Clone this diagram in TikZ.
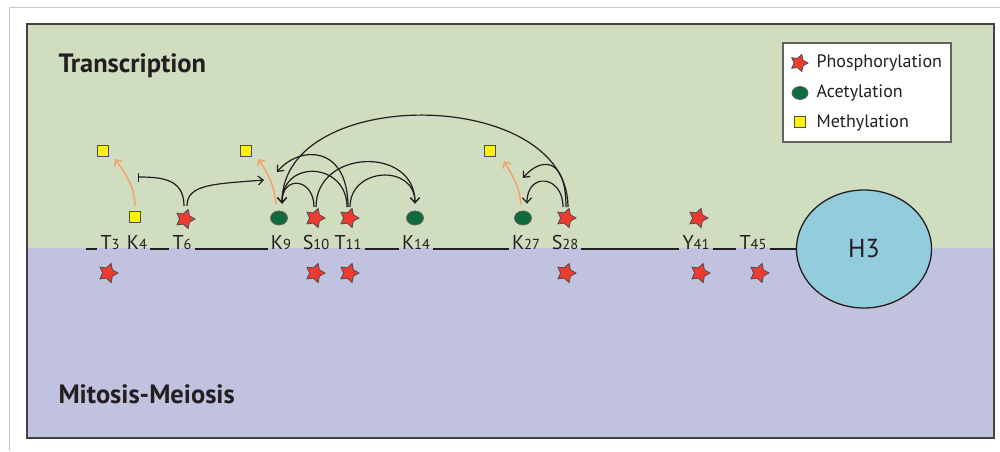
\documentclass[tikz,border=0pt]{standalone}
\usepackage{fontspec}
\setmainfont{PT Sans}
\usetikzlibrary{arrows.meta,positioning,shapes.geometric}
\definecolor{Ink}{HTML}{231F20}
\definecolor{Frame}{HTML}{C8CACC}
\definecolor{Sage}{HTML}{D0DDBE}
\definecolor{Lilac}{HTML}{C1C1E0}
\definecolor{Cyan}{HTML}{93CDDD}
\definecolor{StarRed}{HTML}{EE3B2F}
\definecolor{AcGreen}{HTML}{0E6B3C}
\definecolor{MeYellow}{HTML}{FFF200}
\definecolor{Peach}{HTML}{F4A06A}
\newcommand{\res}[2]{#1{\fontsize{14.5}{16}\selectfont #2}}

\begin{document}
\begin{tikzpicture}[x=1pt,y=1pt,
      site/.style={anchor=base,inner sep=3pt,font=\fontsize{20}{22}\selectfont,text=Ink},
      phos/.style={star,star points=5,star point ratio=1.85,minimum size=20pt,inner sep=0pt,
        fill=StarRed,draw=Ink!80,line width=0.8pt,rotate=-18},
      acet/.style={ellipse,minimum width=17pt,minimum height=14pt,inner sep=0pt,
        fill=AcGreen,draw=Ink!70,line width=0.8pt},
      meth/.style={rectangle,minimum size=11pt,inner sep=0pt,fill=MeYellow,draw=Ink!80,line width=1pt},
      histone/.style={ellipse,minimum width=135pt,minimum height=118pt,fill=Cyan,draw=Ink,
        line width=1.3pt,font=\fontsize{26}{30}\selectfont,text=Ink},
      region/.style={anchor=base west,font=\fontsize{26.5}{30}\selectfont\bfseries,text=Ink},
      legendbox/.style={rectangle,minimum width=168pt,minimum height=99pt,fill=white,draw=Ink!70,line width=1.2pt},
      key/.style={anchor=base west,font=\fontsize{18}{21}\selectfont,text=Ink},
      backbone/.style={line width=1.3pt,Ink},
      arrow/.style={-{Straight Barb[length=5pt,width=9pt]},line width=1.2pt,Ink},
      block/.style={-{Bar[width=9pt]},line width=1.2pt,Ink},
      methyl/.style={-{Straight Barb[length=5pt,width=9pt]},line width=1.4pt,Peach}
    ]
      \useasboundingbox (0,0) rectangle (1000,-451);
      \draw[Frame,line width=0.8pt] (9,-451) -- (9,-7) -- (1000,-7);
      \fill[Sage] (27,-24) rectangle (994,-248);
      \fill[Lilac] (27,-248) rectangle (994,-438);
      \draw[Ink!85,line width=1.5pt] (27,-24) rectangle (994,-438);
      \node[region] (tr) at (55,-72) {Transcription};
      \node[region] (mm) at (55,-403) {Mitosis-Meiosis};

      % legend
      \node[legendbox] (legend) at (867,-92.5) {};
      \node[phos,minimum size=18pt] (keyP) at (799,-63) {};
      \node[key] (keyPt) at (813,-67) {Phosphorylation};
      \node[acet,minimum width=16pt,minimum height=13pt] (keyA) at (800,-93) {};
      \node[key] (keyAt) at (813,-97) {Acetylation};
      \node[meth] (keyM) at (800,-122) {};
      \node[key] (keyMt) at (813,-127) {Methylation};

      % residues
      \node[site] (T3) at (110,-249) {\res{T}{3}};
      \node[site] (K4) at (137,-249) {\res{K}{4}};
      \node[site] (T6) at (182,-249) {\res{T}{6}};
      \node[site] (K9) at (281,-249) {\res{K}{9}};
      \node[site] (S10) at (316,-249) {\res{S}{10}};
      \node[site] (T11) at (348,-249) {\res{T}{11}};
      \node[site] (K14) at (416,-249) {\res{K}{14}};
      \node[site] (K27) at (526,-249) {\res{K}{27}};
      \node[site] (S28) at (565,-249) {\res{S}{28}};
      \node[site] (Y41) at (696,-249) {\res{Y}{41}};
      \node[site] (T45) at (753,-249) {\res{T}{45}};
      \node[histone] (H3) at (864,-249) {H3};
      \coordinate (nterm) at (86,-249);
      \draw[backbone] (nterm) -- (T3.base west);
      \draw[backbone] (K4.base east) -- (T6.base west);
      \draw[backbone] (T6.base east) -- (K9.base west);
      \draw[backbone] (T11.base east) -- (K14.base west);
      \draw[backbone] (K14.base east) -- (K27.base west);
      \draw[backbone] (S28.base east) -- (Y41.base west);
      \draw[backbone] (Y41.base east) -- (T45.base west);
      \draw[backbone] (T45.base east) -- (H3.west);

      % marks, transcription side
      \node[meth] (K4m) at (135,-217) {};
      \node[phos] (T6p) at (185,-219) {};
      \node[acet] (K9a) at (279,-218) {};
      \node[phos] (S10p) at (315,-218) {};
      \node[phos] (T11p) at (349,-218) {};
      \node[acet] (K14a) at (415,-218) {};
      \node[acet] (K27a) at (523,-218) {};
      \node[phos] (S28p) at (566,-218) {};
      \node[phos] (Y41p) at (698,-218) {};
      \node[meth] (K4me) at (103,-151) {};
      \node[meth] (K9me) at (246,-151) {};
      \node[meth] (K27me) at (490,-151) {};

      % marks, mitosis side
      \node[phos] (T3q) at (108,-273) {};
      \node[phos] (S10q) at (315,-273) {};
      \node[phos] (T11q) at (349,-273) {};
      \node[phos] (S28q) at (566,-273) {};
      \node[phos] (Y41q) at (700,-273) {};
      \node[phos] (T45q) at (759,-273) {};

      % crosstalk
      \coordinate (inhib) at (138,-177);
      \coordinate (k9in) at (264,-180);
      \coordinate (k9side) at (277,-172);
      \coordinate (k27side) at (523,-178);
      \coordinate (k9top) at ([shift={(3,7)}]K9a.north);
      \coordinate (k14top) at ([yshift=7pt]K14a.north);
      \coordinate (k27top) at ([shift={(4,7)}]K27a.north);
      \draw[methyl] ([yshift=5pt]K4m.north) to[out=92,in=-55] ([shift={(6,-2)}]K4me.south east);
      \draw[methyl] ([shift={(-3,6)}]K9a.north) to[out=95,in=-55] ([shift={(6,-2)}]K9me.south east);
      \draw[methyl] ([shift={(-2,6)}]K27a.north) to[out=95,in=-60] ([shift={(8,-4)}]K27me.south east);
      \draw[block] ([shift={(-1,13)}]T6p.center) .. controls +(0,26) and +(26,0) .. (inhib);
      \draw[arrow] ([shift={(2,13)}]T6p.center) .. controls +(0,22) and +(-50,-4) .. (k9in);
      \draw[arrow] ([shift={(-1,11)}]S10p.center) .. controls +(0,29) and +(0,29) .. (k9top);
      \draw[arrow] ([shift={(1,11)}]S10p.center) .. controls +(0,58) and +(0,58) .. (k14top);
      \draw[arrow] ([shift={(-2,11)}]T11p.center) .. controls +(0,45) and +(0,45) .. (k9top);
      \draw[arrow] ([shift={(-1,11)}]T11p.center) .. controls +(0,62) and +(23,27) .. (k9side);
      \draw[arrow] ([shift={(1,11)}]T11p.center) .. controls +(0,40) and +(0,40) .. (k14top);
      \draw[arrow] ([shift={(-3,11)}]S28p.center) .. controls +(0,32) and +(0,32) .. (k27top);
      \draw[arrow] ([shift={(0,11)}]S28p.center) .. controls +(0,52) and +(17,20) .. (k27side);
      \draw[arrow] ([shift={(2,11)}]S28p.center) .. controls +(0,120) and +(0,120) .. (k9top);
    \end{tikzpicture}
\end{document}
